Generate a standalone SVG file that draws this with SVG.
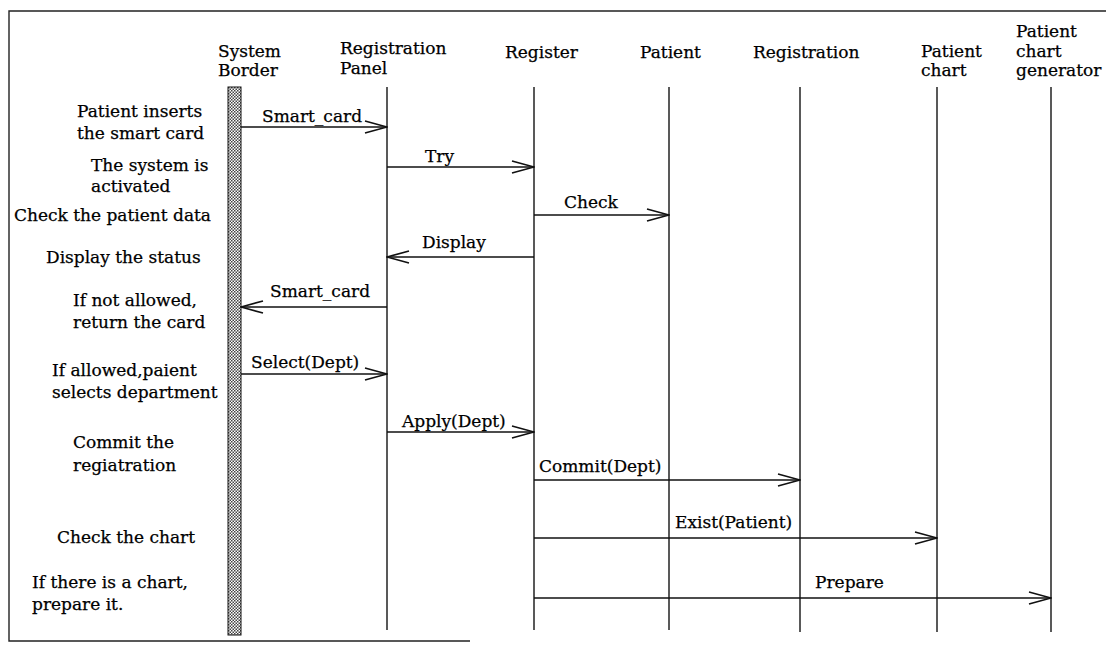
<svg xmlns="http://www.w3.org/2000/svg" width="1106" height="646" viewBox="0 0 1106 646">
<style>
text{font-family:"DejaVu Serif","Liberation Serif",serif;font-size:17px;fill:#000;stroke:#000;stroke-width:0.25}
.frame{stroke:#222;stroke-width:1.4;fill:none}
.life{stroke:#222;stroke-width:1.5}
.msg{stroke:#111;stroke-width:1.6;fill:none;marker-end:url(#open)}
</style>
<defs>
<pattern id="chk" width="3" height="3" patternUnits="userSpaceOnUse">
<rect width="3" height="3" fill="#fff"/>
<rect width="1.5" height="1.5" fill="#444"/>
<rect x="1.5" y="1.5" width="1.5" height="1.5" fill="#444"/>
</pattern>
<marker id="open" viewBox="0 0 24 14" refX="23" refY="7" markerWidth="24" markerHeight="14" markerUnits="userSpaceOnUse" orient="auto">
<path d="M1 1 L23 7 L1 13" fill="none" stroke="#111" stroke-width="1.7"/>
</marker>
</defs>
<g id="frame">
<path class="frame" d="M1106 11 H9 V641 H470"/>
</g>
<g id="steps">
<text x="77" y="117">Patient inserts</text>
<text x="77" y="139">the smart card</text>
<text x="91" y="171">The system is</text>
<text x="91" y="192">activated</text>
<text x="14" y="221">Check the patient data</text>
<text x="46" y="263">Display the status</text>
<text x="73" y="306">If not allowed,</text>
<text x="73" y="328">return the card</text>
<text x="52" y="376">If allowed,paient</text>
<text x="52" y="398">selects department</text>
<text x="73" y="448">Commit the</text>
<text x="73" y="471">regiatration</text>
<text x="57" y="543">Check the chart</text>
<text x="32" y="588">If there is a chart,</text>
<text x="32" y="610">prepare it.</text>
</g>
<g id="system-border">
<text x="218" y="57">System</text>
<text x="218" y="76">Border</text>
<rect x="228" y="87" width="13" height="548" fill="url(#chk)" stroke="#111" stroke-width="1"/>
</g>
<g id="registration-panel">
<text x="340" y="54">Registration</text>
<text x="340" y="74">Panel</text>
<line class="life" x1="387" y1="87" x2="387" y2="630"/>
</g>
<g id="register">
<text x="505" y="58">Register</text>
<line class="life" x1="534" y1="87" x2="534" y2="630"/>
</g>
<g id="patient">
<text x="640" y="58">Patient</text>
<line class="life" x1="669" y1="87" x2="669" y2="630"/>
</g>
<g id="registration">
<text x="753" y="58">Registration</text>
<line class="life" x1="800" y1="87" x2="800" y2="632"/>
</g>
<g id="patient-chart">
<text x="921" y="57">Patient</text>
<text x="921" y="76">chart</text>
<line class="life" x1="937" y1="87" x2="937" y2="632"/>
</g>
<g id="patient-chart-generator">
<text x="1016" y="37">Patient</text>
<text x="1016" y="57">chart</text>
<text x="1016" y="76">generator</text>
<line class="life" x1="1051" y1="87" x2="1051" y2="632"/>
</g>
<g id="connectors">
<line class="msg" x1="241" y1="127" x2="387" y2="127"/>
<text x="262" y="122">Smart_card</text>
<line class="msg" x1="387" y1="167" x2="534" y2="167"/>
<text x="425" y="162">Try</text>
<line class="msg" x1="534" y1="215" x2="669" y2="215"/>
<text x="564" y="208">Check</text>
<line class="msg" x1="534" y1="257" x2="387" y2="257"/>
<text x="422" y="248">Display</text>
<line class="msg" x1="387" y1="307" x2="241" y2="307"/>
<text x="270" y="297">Smart_card</text>
<line class="msg" x1="241" y1="374" x2="387" y2="374"/>
<text x="251" y="368">Select(Dept)</text>
<line class="msg" x1="387" y1="432" x2="534" y2="432"/>
<text x="402" y="427">Apply(Dept)</text>
<line class="msg" x1="534" y1="480" x2="800" y2="480"/>
<text x="539" y="472">Commit(Dept)</text>
<line class="msg" x1="534" y1="538" x2="937" y2="538"/>
<text x="675" y="528">Exist(Patient)</text>
<line class="msg" x1="534" y1="598" x2="1051" y2="598"/>
<text x="815" y="588">Prepare</text>
</g>
</svg>
